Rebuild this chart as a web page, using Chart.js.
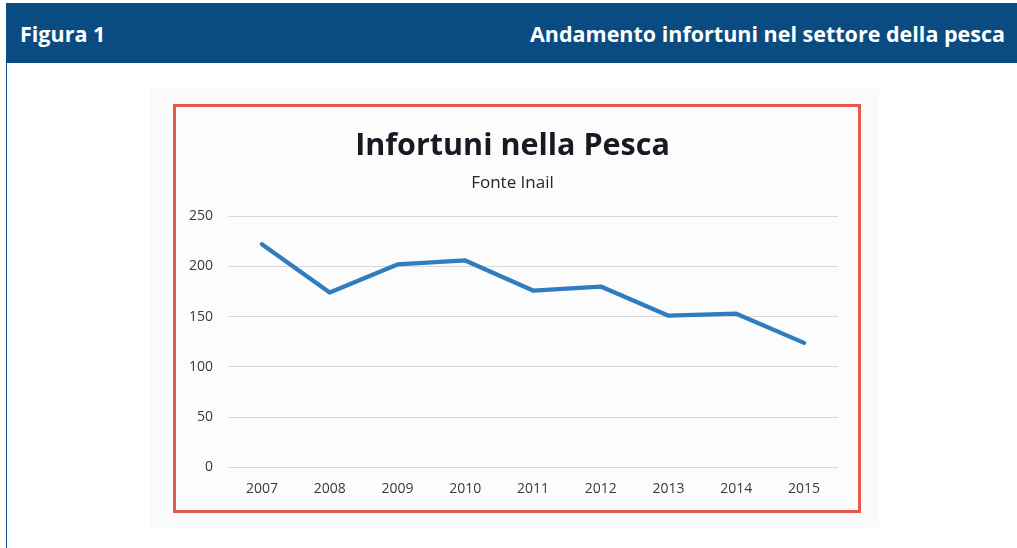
<!DOCTYPE html>
<html>
<head>
<meta charset="utf-8">
<script src="https://cdn.jsdelivr.net/npm/chart.js@4/dist/chart.umd.min.js"></script>
<style>
  html, body { margin: 0; padding: 0; background: #ffffff; }
  body { width: 1017px; height: 548px; position: relative; overflow: hidden; font-family: "Open Sans", sans-serif; }
  #header { position: absolute; left: 6px; top: 3px; width: 1011px; height: 60px; background: #0a4c82; color: #fff; font-weight: 700; font-size: 21.5px; }
  #header .l { position: absolute; left: 14px; top: 16px; }
  #header .r { position: absolute; right: 12px; top: 16px; }
  #leftline { position: absolute; left: 6px; top: 63px; width: 1px; height: 485px; background: #0a4c82; }
  #bg { position: absolute; left: 150px; top: 89px; width: 729px; height: 438px; background: #fafafa; }
  #frame { position: absolute; left: 173px; top: 104px; width: 682px; height: 403px; border: 3px solid #e65a4d; background: #fcfcfc; }
  #wrap { position: absolute; left: 11px; top: 0; width: 657px; height: 403px; }
</style>
</head>
<body>
<div id="header"><span class="l">Figura 1</span><span class="r">Andamento infortuni nel settore della pesca</span></div>
<div id="leftline"></div>
<div id="bg"></div>
<div id="frame"><div id="wrap"><canvas id="c"></canvas></div></div>
<script>
const years = ["2007","2008","2009","2010","2011","2012","2013","2014","2015"];
const infortuni = [222, 174, 202, 206, 176, 180, 151, 153, 124];
const yTicks = [0, 50, 100, 150, 200, 250];
const chartTitle = "Infortuni nella Pesca";
const chartSubtitle = "Fonte Inail";

const ctx = document.getElementById('c');
new Chart(ctx, {
  type: 'line',
  data: {
    labels: years,
    datasets: [{
      data: infortuni,
      borderColor: '#2f7dc0',
      borderWidth: 4.3,
      pointRadius: 0,
      tension: 0,
      borderJoinStyle: 'round',
      borderCapStyle: 'round',
      fill: false
    }]
  },
  options: {
    responsive: true,
    maintainAspectRatio: false,
    animation: false,
    layout: { padding: { left: 0, right: 6, top: 0, bottom: 0 } },
    plugins: {
      legend: { display: false },
      tooltip: { enabled: false },
      title: {
        display: true,
        text: chartTitle,
        color: '#1c1722',
        font: { family: '"Open Sans", sans-serif', size: 30.5, weight: 'bold' },
        padding: { top: 21, bottom: 8 }
      },
      subtitle: {
        display: true,
        text: chartSubtitle,
        color: '#262626',
        font: { family: '"Open Sans", sans-serif', size: 17 },
        padding: { top: 0, bottom: 23.2 }
      }
    },
    scales: {
      x: {
        offset: true,
        afterFit: (s) => { s.height = 42.5; },
        grid: { display: false, drawTicks: false },
        border: { display: false },
        ticks: { color: '#3a3a3a', font: { family: '"Open Sans", sans-serif', size: 14 }, padding: 13, maxRotation: 0 }
      },
      y: {
        min: 0,
        max: 250,
        afterBuildTicks: (s) => { s.ticks = yTicks.map(v => ({ value: v })); },
        afterFit: (s) => { s.width = 41; },
        grid: { color: '#d9d9d9', lineWidth: 1, drawTicks: false },
        border: { display: false },
        ticks: { color: '#3a3a3a', font: { family: '"Open Sans", sans-serif', size: 14 }, padding: 15 }
      }
    }
  }
});
</script>
</body>
</html>
